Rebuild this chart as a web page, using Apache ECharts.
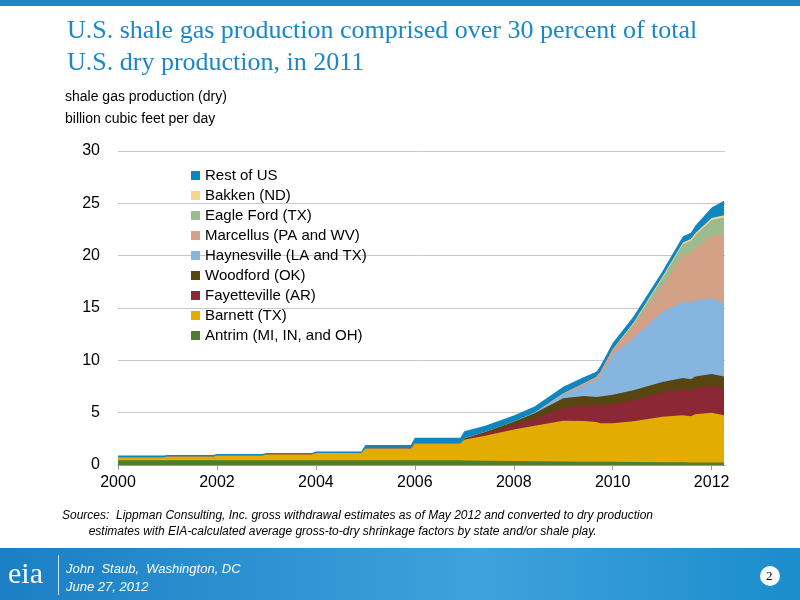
<!DOCTYPE html>
<html>
<head>
<meta charset="utf-8" />
<title>shale gas</title>
<style>body{margin:0;}#chart{width:800px;height:600px;}</style>
</head>
<body>
<div id="chart"></div>
<script src="https://cdn.jsdelivr.net/npm/echarts@6/dist/echarts.min.js"></script>
<script>
// decimal years
var years = [2000.0,2000.92,2001.0,2001.92,2002.0,2002.92,2003.0,2003.92,2004.0,2004.92,2005.0,2005.92,2006.0,2006.92,
  2007.0,2007.42,2008.0,2008.42,2009.0,2009.42,2009.67,2009.75,2010.0,2010.42,2011.0,2011.42,2011.58,2011.67,2012.0,2012.25];
var antrim = [0.45,0.45,0.45,0.45,0.45,0.45,0.45,0.45,0.45,0.45,0.45,0.45,0.45,0.45,0.42,0.4,0.38,0.35,0.33,0.3,0.3,0.3,0.3,0.28,0.27,0.26,0.25,0.25,0.25,0.25];
var barnett = [0.3,0.3,0.35,0.35,0.45,0.45,0.55,0.55,0.7,0.7,1.1,1.1,1.6,1.6,2.0,2.4,3.0,3.4,3.9,3.9,3.8,3.7,3.7,3.9,4.35,4.5,4.4,4.6,4.75,4.5];
var fayetteville = [0,0,0,0,0,0,0,0,0,0,0,0,0,0,0.05,0.2,0.45,0.7,1.2,1.5,1.6,1.7,1.8,2.0,2.3,2.5,2.5,2.5,2.6,2.6];
var woodford = [0,0,0,0,0,0,0,0,0,0,0,0,0,0,0.05,0.15,0.3,0.5,0.95,0.9,0.8,0.85,0.9,0.95,1.0,1.05,1.05,1.1,1.1,1.1];
var haynesville = [0,0,0,0,0,0,0,0,0,0,0,0,0,0,0,0,0,0.05,0.35,1.0,1.6,2.0,3.8,5.0,6.7,7.3,7.3,7.3,7.2,7.0];
var marcellus = [0,0,0,0,0,0,0,0,0,0,0,0,0,0,0,0,0,0,0.1,0.2,0.3,0.3,0.5,1.2,2.5,4.5,4.8,5.0,6.0,6.6];
var eagleFord = [0,0,0,0,0,0,0,0,0,0,0,0,0,0,0,0,0,0,0,0,0,0,0,0.15,0.7,1.0,1.1,1.2,1.5,1.6];
var bakken = [0,0,0,0,0,0,0,0,0,0,0,0,0,0,0,0,0,0,0,0,0,0,0.05,0.1,0.15,0.15,0.2,0.2,0.2,0.2];
var restOfUS = [0.15,0.15,0.15,0.15,0.15,0.15,0.15,0.15,0.15,0.15,0.35,0.35,0.55,0.55,0.7,0.6,0.6,0.6,0.65,0.6,0.5,0.6,0.6,0.6,0.5,0.6,0.6,0.7,1.0,1.4];

var names = ['Antrim (MI, IN, and OH)','Barnett (TX)','Fayetteville (AR)','Woodford (OK)','Haynesville (LA and TX)',
  'Marcellus (PA and WV)','Eagle Ford (TX)','Bakken (ND)','Rest of US'];
var values = [antrim,barnett,fayetteville,woodford,haynesville,marcellus,eagleFord,bakken,restOfUS];
var colors = ['#4b7f2e','#e2ac00','#8c2836','#574611','#86b5e0','#d3a186','#9dbb8e','#f6d58c','#0f86c0'];

// running totals so each area is drawn from 0 up to its cumulative top; lower layers sit on top
var cum = years.map(function(){ return 0; });
var series = names.map(function(n,i){
  cum = cum.map(function(c,j){ return c + values[i][j]; });
  var d = years.map(function(y,j){ return [y, +cum[j].toFixed(3)]; });
  return { name:n, type:'line', data:d, symbol:'none', z:20 - i,
    lineStyle:{width:0}, areaStyle:{color:colors[i], opacity:1}, itemStyle:{color:colors[i]} };
});

var chart = echarts.init(document.getElementById('chart'));
chart.setOption({
  animation:false,
  backgroundColor:'#fff',
  grid:{left:118, right:75, top:151, bottom:135},
  title:{text:'U.S. shale gas production comprised over 30 percent of total\nU.S. dry production, in 2011',
    left:62, top:10, textStyle:{fontFamily:'Liberation Serif', fontWeight:'normal', fontSize:26, color:'#1b87c9', lineHeight:32}},
  legend:{data:names.slice().reverse(), orient:'vertical', left:186, top:163, itemGap:5, itemWidth:9, itemHeight:9, icon:'rect',
    textStyle:{fontFamily:'Liberation Sans', fontSize:15, color:'#000'}},
  xAxis:{type:'value', min:2000, max:2012.27, interval:2,
    axisLine:{lineStyle:{color:'#999'}}, axisTick:{show:true, length:5, lineStyle:{color:'#999'}},
    splitLine:{show:false},
    axisLabel:{showMaxLabel:false, color:'#000', fontFamily:'Liberation Sans', fontSize:16, margin:10,
      formatter:function(v){ return String(v); }}},
  yAxis:{type:'value', min:0, max:30, interval:5, axisLine:{show:false}, axisTick:{show:false},
    splitLine:{lineStyle:{color:'#c8c8c8'}},
    axisLabel:{color:'#000', fontFamily:'Liberation Sans', fontSize:16, margin:18}},
  series:series,
  graphic:[
    {type:'rect', left:0, top:0, shape:{width:800, height:6}, style:{fill:'#1b87c9'}},
    {type:'text', left:65, top:86, style:{text:'shale gas production (dry)\nbillion cubic feet per day', font:'14px Liberation Sans', fill:'#000', lineHeight:22}},
    {type:'text', left:62, top:508, style:{text:'Sources:  Lippman Consulting, Inc. gross withdrawal estimates as of May 2012 and converted to dry production\n        estimates with EIA-calculated average gross-to-dry shrinkage factors by state and/or shale play.',
      font:'italic 12px Liberation Sans', fill:'#000', lineHeight:16}},
    {type:'rect', left:0, top:548, shape:{width:800, height:52},
      style:{fill:new echarts.graphic.LinearGradient(0,0,1,0,[{offset:0,color:'#1a7fc4'},{offset:0.6,color:'#3ea2dc'},{offset:1,color:'#1b8ccc'}])}},
    {type:'text', left:8, top:560, style:{text:'eia', font:'30px Liberation Serif', fill:'#fff'}},
    {type:'rect', left:58, top:555, shape:{width:1, height:40}, style:{fill:'#bfe0f5'}},
    {type:'text', left:66, top:560, style:{text:'John  Staub,  Washington, DC\nJune 27, 2012', font:'italic 13px Liberation Sans', fill:'#fff', lineHeight:18}},
    {type:'circle', left:760, top:566, shape:{r:10}, style:{fill:'#fff'}},
    {type:'text', left:766, top:570, style:{text:'2', font:'13px Liberation Serif', fill:'#000'}}
  ]
});
</script>
</body>
</html>
